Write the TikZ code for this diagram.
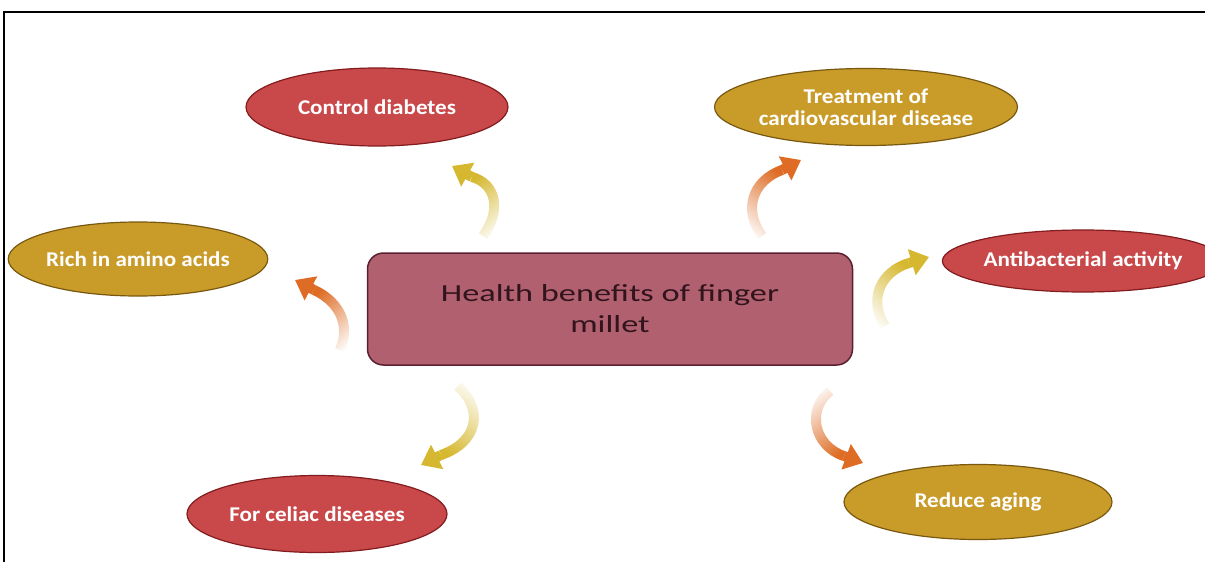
\documentclass[tikz,border=0pt]{standalone}
\usepackage{fontspec}
\setmainfont{Carlito}
\usetikzlibrary{shapes.geometric,arrows.meta,fadings}
\definecolor{redfill}{RGB}{201,72,74}
\definecolor{redline}{RGB}{130,28,30}
\definecolor{goldfill}{RGB}{201,156,42}
\definecolor{goldline}{RGB}{120,88,16}
\definecolor{boxfill}{RGB}{177,96,112}
\definecolor{boxline}{RGB}{90,32,48}
\definecolor{boxtext}{RGB}{50,20,28}
\definecolor{yellowA}{RGB}{214,184,48}
\definecolor{orangeA}{RGB}{222,108,36}
\tikzfading[name=tailfade, bottom color=transparent!100, middle color=transparent!20, top color=transparent!0]
\newcommand\wide[1]{\scalebox{1.1}[1]{#1}}
\newcommand\widec[1]{\scalebox{1.4}[1]{#1}}
\tikzset{
  ell/.style={ellipse, draw, line width=1.2pt, inner sep=0pt, text=white, align=center,
    font=\fontsize{21}{22}\selectfont\bfseries},
  redell/.style={ell, fill=redfill, draw=redline},
  goldell/.style={ell, fill=goldfill, draw=goldline},
  centerbox/.style={rectangle, rounded corners=16pt, fill=boxfill, draw=boxline, line width=1.5pt,
    text=boxtext, align=center, font=\fontsize{24.5}{31}\selectfont},
  arrbody/.style={line width=10pt, line cap=butt},
  arrhead/.style={line width=10pt, -{Triangle[length=18pt, width=26pt]}}
}
\begin{document}
\begin{tikzpicture}[x=1pt,y=-1pt]
\useasboundingbox (0,0) rectangle (1205,562);
\fill[white] (0,0) rectangle (1205,562);
\draw[line width=2pt] (4,562) -- (4,12) -- (1205,12);

% centre
\node[centerbox, minimum width=485pt, minimum height=112pt] (c) at (610,309)
  {\widec{Health benefits of finger}\\\widec{millet}};

% ellipses
\node[redell, minimum width=262pt, minimum height=78pt] (cd) at (377,107) {\wide{Control diabetes}};
\node[goldell, minimum width=267pt, minimum height=77pt] (tc) at (866,107) {\wide{Treatment of}\\\wide{cardiovascular disease}};
\node[goldell, minimum width=252pt, minimum height=74pt] (ra) at (138,259) {\wide{Rich in amino acids}};
\node[redell, minimum width=258pt, minimum height=62pt] (ab) at (1083,261) {\wide{Antibacterial activity}};
\node[redell, minimum width=260pt, minimum height=77pt] (fc) at (317,514) {\wide{For celiac diseases}};
\node[goldell, minimum width=268pt, minimum height=75pt] (rg) at (978,502) {\wide{Reduce aging}};

% arrow 1: to Control diabetes
\coordinate (a1t) at (483,236); \coordinate (a1c) at (502,210); \coordinate (a1d) at (496,184);
\coordinate (a1e) at (472,177); \coordinate (a1h) at (452,166);
\draw[arrbody, yellowA, path fading=tailfade, fading angle=25] (a1t) .. controls (a1c) and (a1d) .. (a1e);
\draw[arrhead, yellowA] (a1e) -- (a1h);

% arrow 2: to Treatment
\coordinate (a2t) at (762,236); \coordinate (a2c) at (743,210); \coordinate (a2d) at (752,181);
\coordinate (a2e) at (782,170); \coordinate (a2h) at (801,160);
\draw[arrbody, orangeA, path fading=tailfade, fading angle=-27] (a2t) .. controls (a2c) and (a2d) .. (a2e);
\draw[arrhead, orangeA] (a2e) -- (a2h);

% arrow 3: to Rich in amino acids
\coordinate (a3t) at (340,350); \coordinate (a3c) at (352,322); \coordinate (a3d) at (336,300);
\coordinate (a3e) at (314,290); \coordinate (a3h) at (295,280);
\draw[arrbody, orangeA, path fading=tailfade, fading angle=33] (a3t) .. controls (a3c) and (a3d) .. (a3e);
\draw[arrhead, orangeA] (a3e) -- (a3h);

% arrow 4: to Antibacterial activity
\coordinate (a4t) at (885,326); \coordinate (a4c) at (868,300); \coordinate (a4d) at (880,272);
\coordinate (a4e) at (909,263); \coordinate (a4h) at (929,257);
\draw[arrbody, yellowA, path fading=tailfade, fading angle=-32] (a4t) .. controls (a4c) and (a4d) .. (a4e);
\draw[arrhead, yellowA] (a4e) -- (a4h);

% arrow 5: to For celiac diseases
\coordinate (a5t) at (458,386); \coordinate (a5c) at (484,410); \coordinate (a5d) at (478,442);
\coordinate (a5e) at (441,455); \coordinate (a5h) at (421,465);
\draw[arrbody, yellowA, path fading=tailfade, fading angle=155] (a5t) .. controls (a5c) and (a5d) .. (a5e);
\draw[arrhead, yellowA] (a5e) -- (a5h);

% arrow 6: to Reduce aging
\coordinate (a6t) at (830,391); \coordinate (a6c) at (806,410); \coordinate (a6d) at (814,446);
\coordinate (a6e) at (844,456); \coordinate (a6h) at (863,463);
\draw[arrbody, orangeA, path fading=tailfade, fading angle=-155] (a6t) .. controls (a6c) and (a6d) .. (a6e);
\draw[arrhead, orangeA] (a6e) -- (a6h);
\end{tikzpicture}
\end{document}
